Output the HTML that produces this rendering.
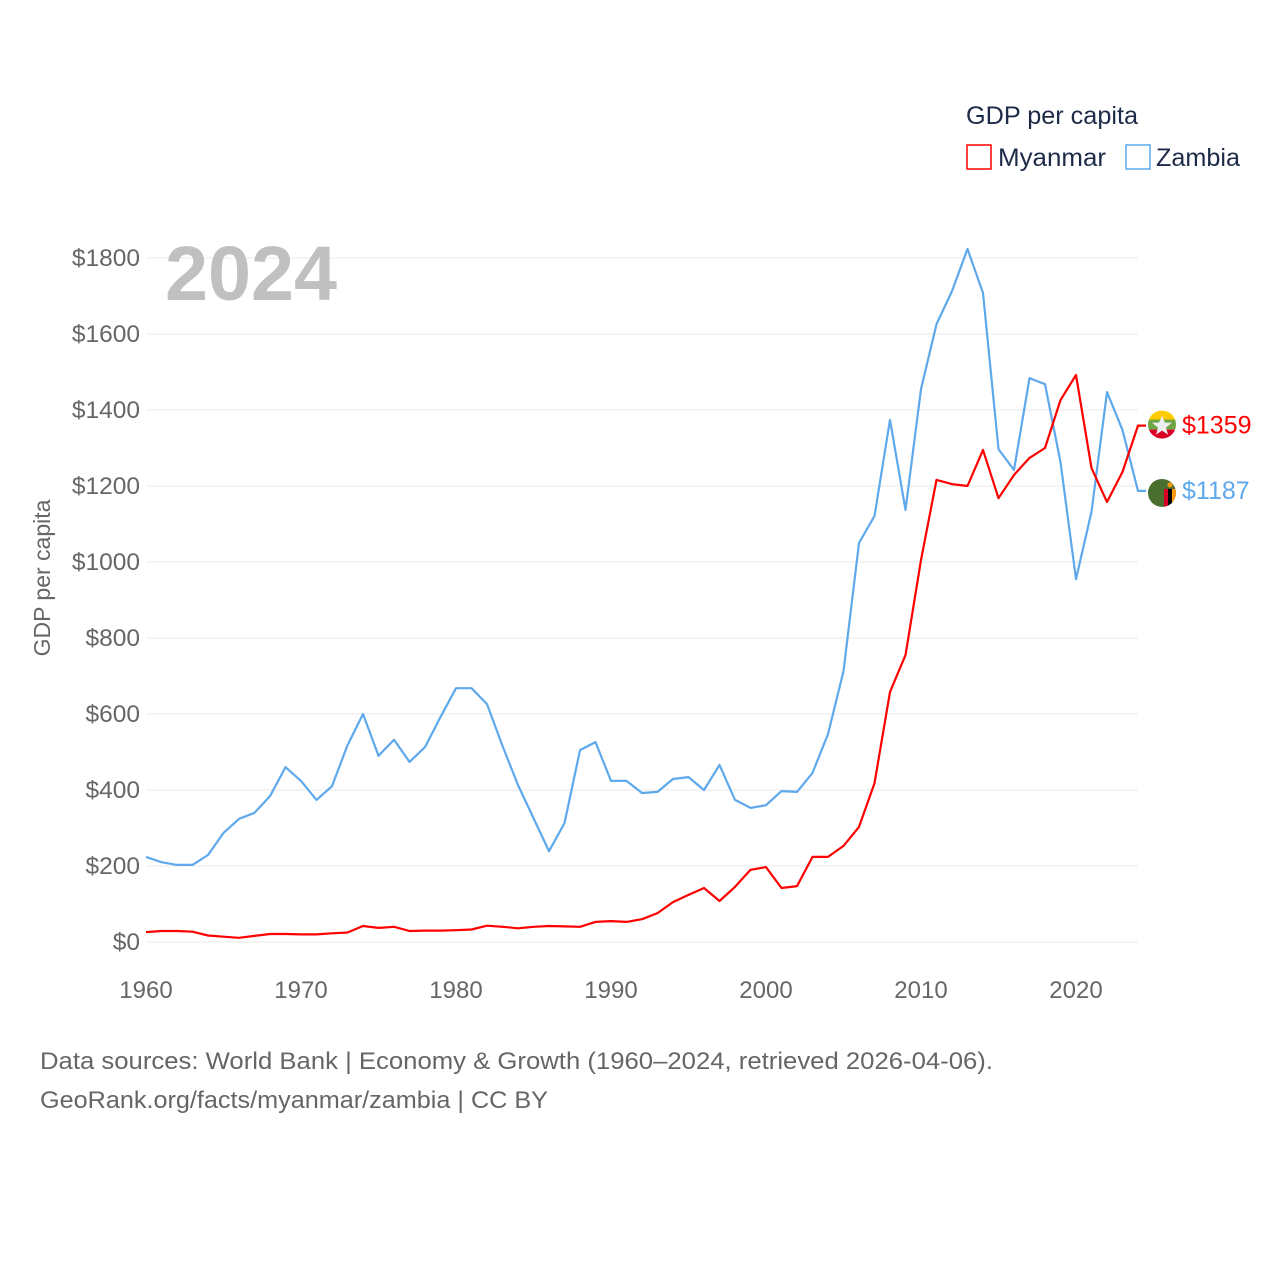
<!DOCTYPE html>
<html><head><meta charset="utf-8"><style>
body{margin:0;background:#fff;font-family:"Liberation Sans",sans-serif;}
#wrap{position:relative;width:1280px;height:1280px;}
</style></head><body>
<div id="wrap">
<svg id="chart" width="1280" height="1280" style="font-family:'Liberation Sans',sans-serif"></svg>
</div>
<script>
const years=[];for(let y=1960;y<=2024;y++)years.push(y);
const myanmar=[26,29,29,27,17,14,11,16,21,21,20,20,23,25,42,37,40,29,30,30,31,33,43,40,36,40,42,41,40,53,55,53,60,76,105,124,142,108,145,190,197,142,147,224,224,253,303,418,658,755,1005,1216,1205,1200,1295,1168,1229,1274,1300,1426,1492,1247,1158,1237,1359];
const zambia=[224,210,203,203,229,287,324,340,384,460,424,374,410,518,600,490,532,474,513,592,668,668,626,516,413,326,239,313,505,526,424,424,392,395,429,434,400,466,374,353,360,397,395,445,547,713,1050,1121,1374,1137,1455,1626,1713,1824,1708,1297,1242,1484,1468,1263,955,1132,1447,1347,1187];
const yTicks=[0,200,400,600,800,1000,1200,1400,1600,1800];
const xTicks=[1960,1970,1980,1990,2000,2010,2020];
const X=y=>146+(y-1960)*15.5;
const Y=v=>942-v*0.38;
const svg=document.getElementById('chart');const NS='http://www.w3.org/2000/svg';
function mk(t,a,txt){const e=document.createElementNS(NS,t);for(const k in a)e.setAttribute(k,a[k]);if(txt!=null)e.textContent=txt;svg.appendChild(e);return e;}
yTicks.forEach(v=>{
 let l=mk('line',{x1:146,x2:1138,y1:Y(v),y2:Y(v),stroke:'#e8e8e8','stroke-width':1});
 
 
 let t=mk('text',{x:140,y:Y(v)+8,'text-anchor':'end','font-size':24.5,fill:'#666'},'$'+v);
 
 
});
xTicks.forEach(v=>{
 let t=mk('text',{x:X(v),y:998,'text-anchor':'middle','font-size':24,fill:'#666'},String(v));
 
 
});
let yr=mk('text',{x:165,y:300,'font-size':77,'font-weight':'bold',fill:'#c0c0c0',textLength:172,lengthAdjust:'spacingAndGlyphs'},'2024');


let yt=mk('text',{x:0,y:0,'font-size':23,fill:'#666','text-anchor':'middle',transform:'translate(50,578) rotate(-90)'},'GDP per capita');


function line(data,col,name){
 const d=data.map((v,i)=>(i?'L':'M')+X(years[i]).toFixed(1)+','+Y(v).toFixed(1)).join('');
 let p=mk('path',{d:d+'L'+(X(2024)+8)+','+Y(data[data.length-1]).toFixed(1),fill:'none',stroke:col,'stroke-width':2.2,'stroke-linejoin':'round'});
 
 
}
line(zambia,'#5ea8ec','zambia-line');
line(myanmar,'#ff0000','myanmar-line');
const my=Y(myanmar[myanmar.length-1]),zy=Y(zambia[zambia.length-1]);
mk('defs',{}).innerHTML='<clipPath id="c1"><circle cx="1162" cy="'+(my-1)+'" r="14"/></clipPath><clipPath id="c2"><circle cx="1162" cy="'+(zy+2)+'" r="14"/></clipPath>';
let g1=mk('g',{'clip-path':'url(#c1)'});
g1.innerHTML='<rect x="1148" y="'+(my-15)+'" width="28" height="10" fill="#fecb00"/><rect x="1148" y="'+(my-6)+'" width="28" height="10" fill="#6da544"/><rect x="1148" y="'+(my+4)+'" width="28" height="12" fill="#d80027"/><polygon points="1162,'+(my-10)+' 1165,'+(my-3)+' 1172,'+(my-3)+' 1166,'+(my+2)+' 1168,'+(my+9)+' 1162,'+(my+5)+' 1156,'+(my+9)+' 1158,'+(my+2)+' 1152,'+(my-3)+' 1159,'+(my-3)+'" fill="#eee"/>';
let g2=mk('g',{'clip-path':'url(#c2)'});
g2.innerHTML='<rect x="1148" y="'+(zy-12)+'" width="28" height="28" fill="#496e2d"/><rect x="1164" y="'+(zy-2)+'" width="4" height="18" fill="#d80027"/><rect x="1168" y="'+(zy-2)+'" width="4" height="18" fill="#000"/><rect x="1172" y="'+(zy-2)+'" width="4" height="18" fill="#ff9811"/><circle cx="1170" cy="'+(zy-6)+'" r="2.5" fill="#ff9811"/>';
let l1=mk('text',{x:1182,y:my+8,'font-size':25,fill:'#ff0000'},'$'+myanmar[myanmar.length-1]);

let l2=mk('text',{x:1182,y:zy+8,'font-size':25,fill:'#5ea8ec'},'$'+zambia[zambia.length-1]);

let lt=mk('text',{x:966,y:124,'font-size':25,fill:'#1d2b48',textLength:172,lengthAdjust:'spacingAndGlyphs'},'GDP per capita');

let r1=mk('rect',{x:967,y:145,width:24,height:24,fill:'none',stroke:'#ff0000','stroke-width':1.5});

let t1=mk('text',{x:998,y:166,'font-size':25,fill:'#1d2b48',textLength:108,lengthAdjust:'spacingAndGlyphs'},'Myanmar');

let r2=mk('rect',{x:1126,y:145,width:24,height:24,fill:'none',stroke:'#5ea8ec','stroke-width':1.5});

let t2=mk('text',{x:1156,y:166,'font-size':25,fill:'#1d2b48',textLength:84,lengthAdjust:'spacingAndGlyphs'},'Zambia');

let f1=mk('text',{x:40,y:1069,'font-size':24,fill:'#666',textLength:953,lengthAdjust:'spacingAndGlyphs'},'Data sources: World Bank | Economy & Growth (1960–2024, retrieved 2026-04-06).');

let f2=mk('text',{x:40,y:1108,'font-size':24,fill:'#666',textLength:508,lengthAdjust:'spacingAndGlyphs'},'GeoRank.org/facts/myanmar/zambia | CC BY');

</script>
</body></html>
